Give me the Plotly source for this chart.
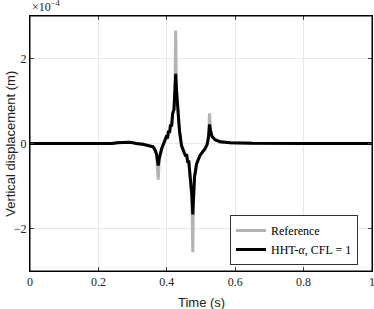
import plotly.graph_objects as go

# Time (s)
t_hht = [0.0, 0.1, 0.2, 0.24, 0.255, 0.27, 0.29, 0.30, 0.31, 0.33, 0.35, 0.36, 0.365,
         0.37, 0.375, 0.378, 0.385, 0.392, 0.398, 0.402, 0.405, 0.408, 0.411, 0.414,
         0.417, 0.421, 0.424, 0.426, 0.428, 0.431, 0.437, 0.443, 0.450, 0.455, 0.458,
         0.461, 0.464, 0.467, 0.470, 0.473, 0.476, 0.478, 0.481, 0.487, 0.497, 0.512,
         0.518, 0.522, 0.525, 0.528, 0.532, 0.541, 0.556, 0.585, 0.65, 0.8, 1.0]
# Vertical displacement (x1e-4 m), HHT-alpha CFL=1
y_hht = [0.0, 0.0, 0.0, 0.0, 0.02, 0.03, 0.03, 0.02, 0.0, -0.02, -0.05, -0.08, -0.14,
         -0.25, -0.52, -0.35, -0.12, 0.05, 0.15, 0.12, 0.30, 0.25, 0.45, 0.40,
         0.70, 0.80, 1.32, 1.64, 1.30, 0.94, 0.31, -0.05, -0.18, -0.30, -0.25,
         -0.45, -0.40, -0.62, -0.87, -1.20, -1.67, -1.20, -0.80, -0.48, -0.28, -0.12,
         -0.02, 0.15, 0.45, 0.30, 0.17, 0.09, 0.04, 0.02, 0.005, 0.0, 0.0]
# Reference solution (x1e-4 m)
y_ref = [0.0, 0.0, 0.0, 0.0, 0.02, 0.03, 0.03, 0.02, 0.0, -0.02, -0.05, -0.08, -0.14,
         -0.25, -0.85, -0.35, -0.12, 0.05, 0.15, 0.12, 0.30, 0.25, 0.45, 0.40,
         0.70, 0.80, 1.32, 2.66, 1.30, 0.94, 0.31, -0.05, -0.18, -0.30, -0.25,
         -0.45, -0.40, -0.62, -0.87, -1.20, -2.56, -1.20, -0.80, -0.48, -0.28, -0.12,
         -0.02, 0.15, 0.71, 0.30, 0.17, 0.09, 0.04, 0.02, 0.005, 0.0, 0.0]

x_ticks = [0, 0.2, 0.4, 0.6, 0.8, 1]
x_ticklabels = ["0", "0.2", "0.4", "0.6", "0.8", "1"]
y_ticks = [-2, 0, 2]
y_ticklabels = ["\u22122", "0", "2"]

serif = "Liberation Serif, DejaVu Serif, serif"
sans = "Liberation Sans, Arial, sans-serif"

fig = go.Figure()
fig.add_trace(go.Scatter(x=t_hht, y=y_ref, mode="lines", name="Reference",
                         line=dict(color="#b3b3b3", width=3)))
fig.add_trace(go.Scatter(x=t_hht, y=y_hht, mode="lines",
                         name="HHT-<i>\u03b1</i>, CFL = 1",
                         line=dict(color="black", width=3)))

axis_common = dict(showline=True, linecolor="black", linewidth=1, mirror="ticks",
                   ticks="inside", ticklen=4, tickcolor="#404040",
                   showgrid=True, gridcolor="#e8e8e8", gridwidth=1, automargin=False,
                   ticklabeloverflow="allow",
                   zeroline=False, tickfont=dict(family=serif, size=12, color="#222"))

fig.update_layout(
    width=374, height=309,
    margin=dict(l=30, r=2, t=16, b=38),
    plot_bgcolor="white", paper_bgcolor="white",
    xaxis=dict(range=[0, 1], tickvals=x_ticks, ticktext=x_ticklabels, **axis_common),
    yaxis=dict(range=[-3, 3], tickvals=y_ticks, ticktext=y_ticklabels, **axis_common),
    legend=dict(x=0.959, y=0.0235, xanchor="right", yanchor="bottom",
                bgcolor="white", bordercolor="#333", borderwidth=1,
                font=dict(family=serif, size=12, color="black"),
                tracegroupgap=0, itemwidth=30),
    showlegend=True,
    shapes=[dict(type="rect", xref="paper", yref="paper", x0=0, x1=1, y0=0, y1=1,
                 line=dict(color="black", width=1), layer="above")],
    annotations=[
        dict(text="Time (s)", xref="paper", yref="paper", x=0.5, y=-0.085,
             xanchor="center", yanchor="top", showarrow=False,
             font=dict(family=sans, size=13, color="#222")),
        dict(text="Vertical displacement (m)", xref="paper", yref="paper",
             x=-0.058, y=0.5, xanchor="center", yanchor="middle", textangle=-90,
             showarrow=False, font=dict(family=sans, size=13, color="#222")),
        dict(text="\u00d710<sup>\u22124</sup>", xref="paper", yref="paper",
             x=0.0, y=1.0, xanchor="left", yanchor="bottom", showarrow=False,
             font=dict(family=serif, size=12, color="#222")),
    ],
)

fig.write_html("out.html", config={"displayModeBar": False},
               post_script="document.body.style.margin='0';document.body.style.overflow='hidden';")
